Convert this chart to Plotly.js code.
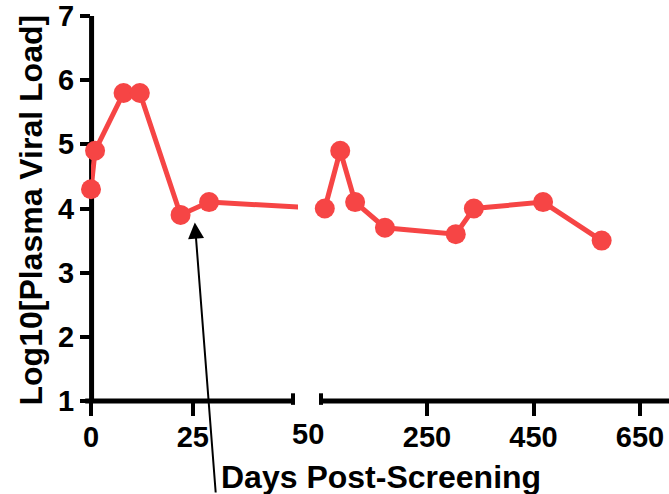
<!DOCTYPE html>
<html>
<head>
<meta charset="utf-8">
<script src="https://cdn.plot.ly/plotly-3.0.1.min.js"></script>
<style>
  html, body { margin: 0; padding: 0; background: #fff; }
  #chart { width: 669px; height: 494px; }
</style>
</head>
<body>
<div id="chart"></div>
<script>
// Early phase (days 0-29), drawn on the left axis segment
const earlyDays = [0, 1, 8, 12, 22, 29];
const earlyLoad = [4.3, 4.9, 5.8, 5.8, 3.9, 4.1];

// Later phase (day 58 onward), drawn on the right axis segment
const lateDays = [58, 87, 115, 171, 304, 338, 468, 578];
const lateLoad = [4.0, 4.9, 4.1, 3.7, 3.6, 4.0, 4.1, 3.5];

// Tick labels
const yTicks = [1, 2, 3, 4, 5, 6, 7];
const leftTicks = [0, 25];
const rightTicks = [250, 450, 650];
const breakLabel = '50';

// Arrow target on the early segment
const arrowDay = 25.5;
const arrowLoad = 3.78;

const RED = '#f64545';
const FONT = 'Liberation Sans, Arial, Helvetica, sans-serif';

// Segment joining the two phases across the axis break
const bridgeDays = [earlyDays[earlyDays.length - 1], lateDays[0]];
const bridgeLoad = [earlyLoad[earlyLoad.length - 1], lateLoad[0]];

const lineStyle = { color: RED, width: 5 };
const markerStyle = { color: RED, size: 20 };

const traces = [
  { x: bridgeDays, y: bridgeLoad, xaxis: 'x', yaxis: 'y', mode: 'lines',
    line: lineStyle, hoverinfo: 'skip' },
  { x: bridgeDays, y: bridgeLoad, xaxis: 'x2', yaxis: 'y', mode: 'lines',
    line: lineStyle, hoverinfo: 'skip' },
  { x: earlyDays, y: earlyLoad, xaxis: 'x', yaxis: 'y', mode: 'lines+markers',
    line: lineStyle, marker: markerStyle, cliponaxis: false },
  { x: lateDays, y: lateLoad, xaxis: 'x2', yaxis: 'y', mode: 'lines+markers',
    line: lineStyle, marker: markerStyle, cliponaxis: false }
];

const tickFont = { family: FONT, size: 29, color: '#000', weight: 'bold' };

const commonX = {
  showgrid: false, zeroline: false, showline: false,
  ticks: 'outside', ticklen: 14, tickwidth: 4, tickcolor: '#000',
  tickfont: tickFont, tickmode: 'array', fixedrange: true,
  ticklabelstandoff: -4, layer: 'below traces'
};

const W = 669, L = 91, T = 16, B = 93;
const plotW = W - L;

const layout = {
  width: 669, height: 494,
  margin: { l: L, r: 0, t: T, b: B, pad: 0 },
  paper_bgcolor: '#fff', plot_bgcolor: '#fff',
  showlegend: false,
  xaxis: Object.assign({}, commonX, {
    domain: [0, (298 - L) / plotW], range: [0, 50.85],
    tickvals: leftTicks, ticktext: leftTicks.map(String), anchor: 'y'
  }),
  xaxis2: Object.assign({}, commonX, {
    domain: [(321 - L) / plotW, 1], range: [50.9, 704.5],
    tickvals: rightTicks, ticktext: rightTicks.map(String), anchor: 'y'
  }),
  yaxis: {
    range: [1, 7], domain: [0, 1], anchor: 'x',
    showgrid: false, zeroline: false, showline: false,
    ticks: 'outside', ticklen: 10, tickwidth: 4, tickcolor: '#000',
    tickvals: yTicks, ticktext: yTicks.map(String), tickmode: 'array',
    tickfont: tickFont, fixedrange: true, layer: 'below traces'
  },
  shapes: [
    // y axis line
    { type: 'line', xref: 'paper', yref: 'paper', x0: 0.001, x1: 0.001, y0: 0, y1: 1,
      line: { color: '#000', width: 5 }, layer: 'below' },
    // left x axis segment with its end cap
    { type: 'line', xref: 'paper', yref: 'paper', x0: -0.01, x1: (293 - L) / plotW, y0: 0, y1: 0,
      line: { color: '#000', width: 5 }, layer: 'below' },
    { type: 'line', xref: 'paper', yref: 'paper', x0: (293 - L) / plotW, x1: (293 - L) / plotW,
      y0: -0.01, y1: 0.02, line: { color: '#000', width: 4 }, layer: 'below' },
    // right x axis segment with its start cap
    { type: 'line', xref: 'paper', yref: 'paper', x0: (321 - L) / plotW, x1: 1, y0: 0, y1: 0,
      line: { color: '#000', width: 5 }, layer: 'below' },
    { type: 'line', xref: 'paper', yref: 'paper', x0: (321 - L) / plotW, x1: (321 - L) / plotW,
      y0: -0.01, y1: 0.02, line: { color: '#000', width: 4 }, layer: 'below' }
  ],
  annotations: [
    { text: breakLabel, xref: 'paper', yref: 'paper', x: (308 - L) / plotW, y: (401 - 434) / 385,
      xanchor: 'center', yanchor: 'middle', showarrow: false, font: tickFont },
    { text: 'Days Post-Screening', xref: 'paper', yref: 'paper',
      x: (381 - L) / plotW, y: (401 - 477) / 385, xanchor: 'center', yanchor: 'middle',
      showarrow: false, font: { family: FONT, size: 32, color: '#000', weight: 'bold' } },
    { text: 'Log10[Plasma Viral Load]', xref: 'paper', yref: 'paper', textangle: -90,
      x: (30 - L) / plotW, y: (401 - 210.5) / 385, xanchor: 'center', yanchor: 'middle',
      showarrow: false, font: { family: FONT, size: 32, color: '#000', weight: 'bold' } },
    { text: '', x: arrowDay, y: arrowLoad, xref: 'x', yref: 'y',
      showarrow: true, arrowhead: 2, arrowsize: 1.6, arrowwidth: 2, arrowcolor: '#000',
      ax: 21, ay: 277, standoff: 0 }
  ]
};

Plotly.newPlot('chart', traces, layout, { displayModeBar: false, staticPlot: true });
</script>
</body>
</html>
